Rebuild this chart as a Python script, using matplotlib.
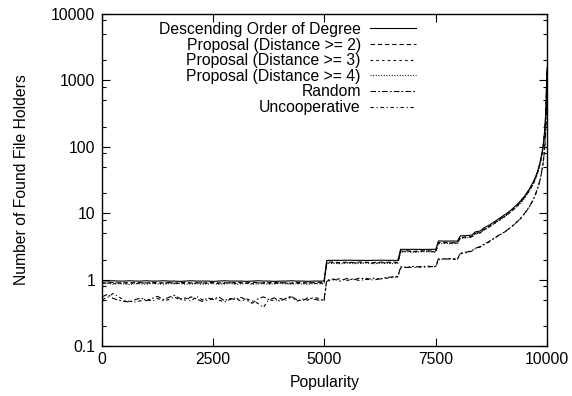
import matplotlib
matplotlib.use("Agg")
import matplotlib.pyplot as plt
import matplotlib.ticker as ticker

plt.rcParams['font.family'] = ['Liberation Sans', 'DejaVu Sans']
plt.rcParams['font.size'] = 11.3

# popularity rank of the file
popularity = [
    0, 125, 250, 375, 500, 625, 750, 875, 1000, 1125,
    1250, 1375, 1500, 1625, 1750, 1875, 2000, 2125, 2250, 2375,
    2500, 2625, 2750, 2875, 3000, 3125, 3250, 3375, 3500, 3625,
    3750, 3875, 4000, 4125, 4250, 4375, 4500, 4625, 4750, 4875,
    4990, 5050, 5200, 5350, 5500, 5650, 5800, 5950, 6100, 6250,
    6400, 6550, 6650, 6710, 6850, 7000, 7150, 7300, 7450, 7500,
    7560, 7700, 7850, 7990, 8050, 8200, 8320, 8380, 8500, 8580,
    8700, 8800, 8900, 9000, 9100, 9200, 9300, 9400, 9500, 9600,
    9700, 9750, 9800, 9850, 9900, 9930, 9960, 9980, 9990, 9995,
    10000,
]

descending = [
    0.96, 0.95, 0.96, 0.95, 0.95, 0.96, 0.95, 0.95, 0.96, 0.95,
    0.95, 0.96, 0.95, 0.95, 0.94, 0.95, 0.96, 0.95, 0.95, 0.95,
    0.94, 0.95, 0.96, 0.95, 0.95, 0.95, 0.94, 0.95, 0.96, 0.95,
    0.95, 0.94, 0.95, 0.95, 0.96, 0.95, 0.95, 0.94, 0.95, 0.95,
    0.95, 1.94, 1.95, 1.95, 1.96, 1.95, 1.95, 1.94, 1.95, 1.96,
    1.95, 1.95, 1.95, 2.86, 2.85, 2.86, 2.85, 2.85, 2.86, 2.85,
    3.82, 3.80, 3.81, 3.80, 4.55, 4.60, 4.70, 5.20, 5.40, 6.00,
    6.60, 7.30, 8.10, 9.00, 10.0, 11.3, 13.0, 15.2, 18.3, 23.0,
    30.5, 36.5, 45.5, 61, 91, 130, 228, 455, 880, 1200,
    1550,
]

proposal_d2 = [
    0.90, 0.88, 0.91, 0.89, 0.90, 0.88, 0.91, 0.90, 0.89, 0.91,
    0.90, 0.89, 0.91, 0.88, 0.90, 0.91, 0.89, 0.90, 0.88, 0.90,
    0.91, 0.89, 0.90, 0.88, 0.91, 0.90, 0.89, 0.91, 0.90, 0.88,
    0.90, 0.91, 0.89, 0.90, 0.88, 0.91, 0.90, 0.89, 0.90, 0.91,
    0.90, 1.82, 1.84, 1.80, 1.83, 1.81, 1.84, 1.82, 1.80, 1.83,
    1.82, 1.84, 1.81, 2.68, 2.72, 2.66, 2.70, 2.73, 2.67, 2.70,
    3.60, 3.64, 3.58, 3.62, 4.30, 4.40, 4.48, 4.95, 5.15, 5.70,
    6.30, 7.00, 7.75, 8.60, 9.55, 10.8, 12.4, 14.5, 17.5, 22.0,
    29.0, 35.0, 43.5, 58, 87, 124, 218, 435, 850, 1150,
    1450,
]

proposal_d3 = [
    0.88, 0.90, 0.87, 0.89, 0.88, 0.90, 0.87, 0.88, 0.90, 0.88,
    0.87, 0.89, 0.88, 0.90, 0.87, 0.88, 0.89, 0.87, 0.90, 0.88,
    0.89, 0.87, 0.88, 0.90, 0.87, 0.89, 0.88, 0.87, 0.89, 0.90,
    0.88, 0.87, 0.90, 0.88, 0.89, 0.87, 0.88, 0.90, 0.87, 0.88,
    0.88, 1.78, 1.80, 1.77, 1.81, 1.78, 1.79, 1.81, 1.77, 1.80,
    1.79, 1.78, 1.80, 2.64, 2.68, 2.62, 2.66, 2.69, 2.63, 2.66,
    3.55, 3.58, 3.54, 3.57, 4.25, 4.34, 4.42, 4.90, 5.08, 5.62,
    6.22, 6.92, 7.65, 8.50, 9.45, 10.7, 12.3, 14.3, 17.3, 21.7,
    28.7, 34.6, 43.0, 57, 86, 122, 215, 430, 840, 1120,
    1400,
]

proposal_d4 = [
    0.86, 0.88, 0.85, 0.87, 0.86, 0.84, 0.87, 0.86, 0.85, 0.88,
    0.86, 0.85, 0.87, 0.86, 0.88, 0.85, 0.86, 0.87, 0.85, 0.86,
    0.87, 0.85, 0.86, 0.88, 0.85, 0.86, 0.87, 0.85, 0.86, 0.87,
    0.85, 0.86, 0.88, 0.86, 0.85, 0.87, 0.86, 0.85, 0.87, 0.86,
    0.86, 1.74, 1.76, 1.73, 1.77, 1.74, 1.75, 1.77, 1.73, 1.76,
    1.75, 1.74, 1.76, 2.58, 2.62, 2.57, 2.61, 2.63, 2.58, 2.61,
    3.48, 3.52, 3.47, 3.50, 4.18, 4.27, 4.36, 4.82, 5.00, 5.55,
    6.15, 6.85, 7.55, 8.40, 9.35, 10.6, 12.1, 14.1, 17.0, 21.3,
    28.2, 34.0, 42.3, 56, 85, 120, 212, 425, 830, 1100,
    1380,
]

random_sel = [
    0.55, 0.60, 0.52, 0.49, 0.47, 0.46, 0.50, 0.53, 0.48, 0.52,
    0.56, 0.50, 0.54, 0.58, 0.52, 0.49, 0.55, 0.51, 0.47, 0.53,
    0.50, 0.55, 0.48, 0.52, 0.50, 0.54, 0.49, 0.44, 0.51, 0.55,
    0.50, 0.53, 0.47, 0.52, 0.56, 0.50, 0.48, 0.53, 0.51, 0.49,
    0.50, 0.98, 1.02, 0.95, 1.04, 0.99, 1.06, 1.00, 1.05, 1.02,
    1.08, 1.10, 1.12, 1.55, 1.52, 1.58, 1.54, 1.60, 1.56, 1.58,
    2.05, 2.02, 2.08, 2.04, 2.50, 2.60, 2.75, 2.95, 3.15, 3.40,
    3.75, 4.15, 4.60, 5.00, 5.55, 6.25, 7.15, 8.30, 10.0, 12.5,
    16.5, 20.0, 25.0, 33.0, 50, 72, 125, 250, 500, 750,
    1000,
]

uncooperative = [
    0.50, 0.54, 0.62, 0.55, 0.49, 0.47, 0.46, 0.48, 0.51, 0.47,
    0.52, 0.48, 0.50, 0.55, 0.49, 0.53, 0.47, 0.56, 0.50, 0.48,
    0.53, 0.49, 0.46, 0.50, 0.53, 0.47, 0.51, 0.48, 0.44, 0.38,
    0.50, 0.48, 0.52, 0.49, 0.55, 0.47, 0.51, 0.49, 0.54, 0.52,
    0.47, 0.95, 0.99, 1.03, 0.97, 1.02, 0.96, 1.04, 0.98, 1.03,
    1.05, 1.08, 1.10, 1.50, 1.56, 1.51, 1.57, 1.53, 1.59, 1.55,
    2.00, 2.06, 2.01, 2.05, 2.45, 2.55, 2.70, 2.90, 3.10, 3.35,
    3.70, 4.10, 4.55, 4.95, 5.50, 6.20, 7.10, 8.20, 9.90, 12.3,
    16.2, 19.8, 24.7, 32.5, 49, 70, 122, 245, 490, 720,
    950,
]

labels = [
    "Descending Order of Degree",
    "Proposal (Distance >= 2)",
    "Proposal (Distance >= 3)",
    "Proposal (Distance >= 4)",
    "Random",
    "Uncooperative",
]
series = [descending, proposal_d2, proposal_d3, proposal_d4, random_sel, uncooperative]
styles = [
    "-",
    (0, (4, 2.5)),
    (0, (2.2, 3)),
    (0, (0.9, 1.5)),
    (0, (5, 2, 1.5, 2)),
    (0, (3, 2.5, 1, 2.5)),
]

fig = plt.figure(figsize=(5.72, 3.96), dpi=100)
ax = fig.add_axes([0.1783, 0.1263, 0.7780, 0.8383])

for ys, lab, ls in zip(series, labels, styles):
    ax.plot(popularity, ys, color="black", linestyle=ls, linewidth=0.8, label=lab)

ax.set_yscale("log")
ax.set_xlim(0, 10000)
ax.set_ylim(0.1, 10000)
ax.xaxis.set_major_locator(ticker.MultipleLocator(2500))
ax.yaxis.set_major_locator(ticker.LogLocator(base=10))
ax.yaxis.set_minor_locator(ticker.LogLocator(base=10, subs=(2, 5, 8)))
ax.yaxis.set_major_formatter(ticker.FuncFormatter(lambda v, p: "%g" % v))
ax.yaxis.set_minor_formatter(ticker.NullFormatter())

ax.tick_params(which="both", direction="in", top=True, right=True, color="black")
ax.tick_params(which="major", length=6, width=0.8)
ax.tick_params(which="minor", length=3, width=0.8)
ax.tick_params(axis="y", pad=5)
ax.tick_params(axis="x", pad=4)
for s in ax.spines.values():
    s.set_linewidth(1.0)

ax.set_xlabel("Popularity", labelpad=6)
ax.set_ylabel("Number of Found File Holders", labelpad=16)

ax.legend(loc="upper right", bbox_to_anchor=(0.705, 0.976), frameon=False,
          markerfirst=False, handlelength=2.9, handletextpad=0.6,
          labelspacing=0.04, borderpad=0, borderaxespad=0)

fig.savefig("out.png", dpi=100)
